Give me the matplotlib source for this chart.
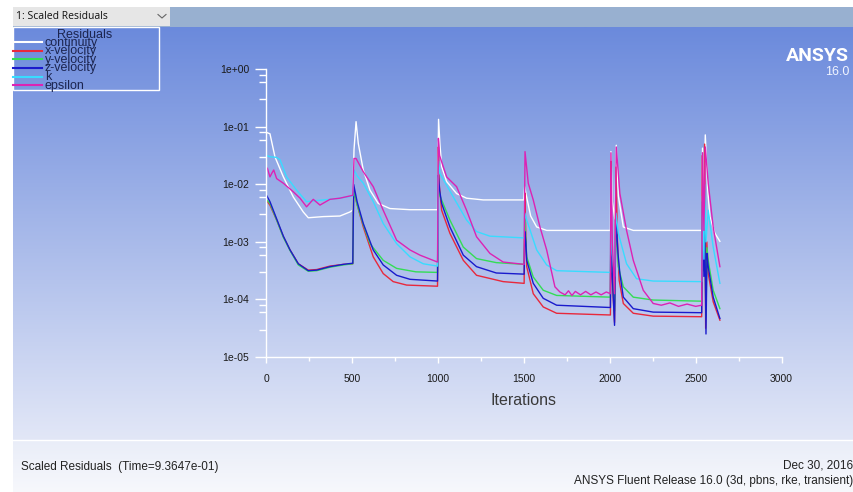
import numpy as np
import matplotlib
matplotlib.use('Agg')
import matplotlib.pyplot as plt
from matplotlib.patches import Rectangle
from matplotlib.ticker import LogLocator, MultipleLocator, NullFormatter

# residual histories: (iteration, log10 residual)
continuity_pts = [
    (5, -1.10), (23, -1.12), (52, -1.52), (101, -1.87), (159, -2.22), (217, -2.48), (246, -2.58),
    (333, -2.56), (430, -2.55), (488, -2.48), (504, -2.45),
    (512, -1.40), (524, -0.91), (537, -1.29), (566, -1.75), (605, -2.10), (653, -2.33), (721, -2.42),
    (838, -2.44), (998, -2.44),
    (1004, -0.87), (1012, -1.30), (1022, -1.69), (1051, -1.95), (1109, -2.16), (1167, -2.24),
    (1264, -2.27), (1500, -2.27),
    (1505, -2.04), (1515, -2.20), (1540, -2.55), (1575, -2.74), (1633, -2.80), (2004, -2.80),
    (2007, -1.43), (2015, -2.30), (2030, -2.60), (2038, -1.32), (2050, -2.20), (2079, -2.74),
    (2137, -2.80), (2536, -2.80),
    (2540, -1.37), (2548, -2.30), (2556, -1.14), (2570, -2.10), (2583, -2.56), (2612, -2.85), (2641, -2.99)]

x_velocity_pts = [
    (8, -2.30), (23, -2.36), (62, -2.62), (101, -2.91), (140, -3.14), (188, -3.38), (246, -3.49),
    (295, -3.48), (372, -3.42), (450, -3.39), (505, -3.38),
    (510, -2.10), (530, -2.35), (566, -2.74), (624, -3.26), (682, -3.55), (740, -3.69), (818, -3.75),
    (998, -3.77),
    (1003, -1.35), (1008, -2.00), (1022, -2.45), (1070, -2.85), (1148, -3.32), (1225, -3.58),
    (1380, -3.69), (1502, -3.72),
    (1506, -2.15), (1512, -2.90), (1517, -3.43), (1555, -3.90), (1613, -4.13), (1691, -4.24), (2004, -4.27),
    (2007, -1.60), (2012, -3.50), (2028, -4.40), (2036, -1.70), (2045, -3.00), (2055, -3.67),
    (2079, -4.07), (2137, -4.24), (2253, -4.29), (2535, -4.30),
    (2538, -1.50), (2545, -3.50), (2552, -1.30), (2558, -4.50), (2565, -3.00), (2573, -3.55),
    (2602, -4.04), (2641, -4.36)]

y_velocity_pts = [
    (8, -2.28), (23, -2.33), (62, -2.62), (101, -2.92), (140, -3.15), (188, -3.40), (246, -3.51),
    (295, -3.50), (372, -3.44), (450, -3.40), (505, -3.38),
    (510, -2.10), (530, -2.35), (566, -2.70), (605, -3.03), (682, -3.32), (760, -3.46), (872, -3.52),
    (998, -3.53),
    (1003, -2.00), (1012, -2.20), (1070, -2.62), (1148, -3.09), (1225, -3.29), (1340, -3.36), (1502, -3.39),
    (1506, -2.60), (1517, -3.26), (1555, -3.61), (1613, -3.84), (1691, -3.93), (2004, -3.96),
    (2007, -2.60), (2015, -3.40), (2028, -4.20), (2036, -2.70), (2050, -3.43), (2079, -3.78),
    (2137, -3.96), (2253, -4.01), (2535, -4.03),
    (2540, -2.60), (2548, -3.50), (2552, -2.70), (2560, -4.30), (2566, -3.10), (2573, -3.32),
    (2602, -3.84), (2641, -4.16)]

z_velocity_pts = [
    (5, -2.20), (23, -2.30), (62, -2.60), (101, -2.90), (140, -3.14), (188, -3.38), (246, -3.50),
    (295, -3.49), (372, -3.43), (450, -3.39), (505, -3.37),
    (510, -2.00), (530, -2.30), (566, -2.68), (624, -3.14), (682, -3.40), (760, -3.58), (838, -3.65),
    (998, -3.68),
    (1003, -1.84), (1010, -2.10), (1022, -2.33), (1070, -2.74), (1148, -3.23), (1225, -3.43),
    (1340, -3.54), (1502, -3.56),
    (1506, -2.82), (1512, -3.00), (1517, -3.32), (1555, -3.72), (1613, -3.98), (1691, -4.10), (2004, -4.14),
    (2007, -2.45), (2015, -3.60), (2028, -4.45), (2036, -2.55), (2048, -3.20), (2059, -3.55),
    (2079, -3.96), (2137, -4.16), (2253, -4.22), (2535, -4.23),
    (2540, -2.30), (2548, -3.60), (2552, -2.50), (2560, -4.60), (2566, -3.20), (2573, -3.43),
    (2602, -3.96), (2641, -4.33)]

k_pts = [
    (5, -1.50), (23, -1.52), (60, -1.53), (81, -1.57), (120, -1.87), (178, -2.10), (236, -2.30),
    (300, -2.28), (372, -2.26), (430, -2.24), (505, -2.20),
    (512, -1.75), (530, -1.85), (566, -1.98), (624, -2.30), (682, -2.68), (760, -3.03), (838, -3.26),
    (915, -3.38), (998, -3.42),
    (1004, -1.60), (1012, -1.81), (1090, -2.22), (1167, -2.62), (1225, -2.82), (1303, -2.90), (1502, -2.93),
    (1506, -2.50), (1517, -2.62), (1575, -3.14), (1633, -3.40), (1691, -3.50), (2004, -3.53),
    (2007, -2.40), (2015, -3.20), (2028, -3.60), (2036, -2.50), (2050, -2.85), (2098, -3.38),
    (2156, -3.64), (2253, -3.68), (2535, -3.69),
    (2540, -2.20), (2548, -3.30), (2552, -2.00), (2560, -3.00), (2573, -2.45), (2602, -3.09), (2641, -3.72)]

epsilon_pts = [
    (8, -1.72), (23, -1.87), (35, -1.80), (45, -1.75), (62, -1.90), (101, -1.98), (159, -2.13),
    (198, -2.24), (236, -2.39), (275, -2.26), (314, -2.36), (372, -2.26), (430, -2.24), (505, -2.19),
    (512, -1.55), (524, -1.55), (566, -1.78), (624, -2.04), (682, -2.45), (760, -2.97), (838, -3.14),
    (896, -3.23), (998, -3.35),
    (1003, -1.20), (1010, -1.50), (1051, -1.87), (1109, -2.04), (1167, -2.45), (1225, -2.91),
    (1303, -3.20), (1380, -3.35), (1502, -3.39),
    (1507, -1.43), (1526, -1.98), (1555, -2.27), (1594, -2.74), (1633, -3.14), (1681, -3.78),
    (1710, -3.87), (1740, -3.92), (1760, -3.85), (1780, -3.93), (1800, -3.86), (1830, -3.92),
    (1860, -3.86), (1890, -3.92), (1920, -3.87), (1950, -3.92), (1980, -3.87), (2004, -3.90),
    (2007, -1.45), (2015, -3.00), (2028, -3.90), (2038, -1.35), (2059, -2.16), (2098, -2.80),
    (2137, -3.32), (2195, -3.84), (2253, -4.07), (2300, -4.10), (2350, -4.06), (2400, -4.12),
    (2450, -4.08), (2500, -4.12), (2535, -4.10),
    (2540, -1.45), (2548, -2.80), (2556, -1.35), (2573, -1.98), (2602, -2.74), (2641, -3.43)]

names = ['continuity', 'x-velocity', 'y-velocity', 'z-velocity', 'k', 'epsilon']
series = [continuity_pts, x_velocity_pts, y_velocity_pts, z_velocity_pts, k_pts, epsilon_pts]
colors = ['#ffffff', '#e8283c', '#33dd55', '#1a1acc', '#38dcff', '#dd22b4']

xticks = [0, 500, 1000, 1500, 2000, 2500, 3000]
ydecades = [-5, -4, -3, -2, -1, 0]

W, H = 854, 492
fig = plt.figure(figsize=(W / 100, H / 100), dpi=100)
fig.patch.set_facecolor('white')

# window background (pixel coordinates)
bg = fig.add_axes([0, 0, 1, 1], zorder=0)
top = np.array([107, 138, 220]) / 255
bot = np.array([226, 231, 247]) / 255
t = np.linspace(0, 1, 256)[:, None, None]
bg.imshow(top + (bot - top) * t, extent=(13, W, 440, 27), aspect='auto', interpolation='bilinear')
t2 = np.linspace(0, 1, 64)[:, None, None]
p1 = np.array([233, 237, 248]) / 255
p2 = np.array([247, 248, 252]) / 255
bg.imshow(p1 + (p2 - p1) * t2, extent=(13, W, H, 440), aspect='auto', interpolation='bilinear')
bg.plot([13, W], [440, 440], color='white', lw=1)
bg.add_patch(Rectangle((13, 7), W - 13, 20, color='#98b0d0', lw=0))
bg.add_patch(Rectangle((13, 7), 157, 19, color='#e6e6e6', lw=0))
bg.text(16, 16.5, '1: Scaled Residuals', fontsize=7.5, va='center', color='#111111', family='Open Sans')
bg.plot([158, 162, 166], [14.5, 18, 14.5], color='#666666', lw=0.8)
bg.set_xlim(0, W)
bg.set_ylim(H, 0)
bg.axis('off')

# legend box
bg.add_patch(Rectangle((13, 27), 146, 63, fill=False, edgecolor='white', lw=1))
bg.text(85, 35, 'Residuals', ha='center', va='center', fontsize=9, color='#1c2550', family='Liberation Sans')
for i, (nm, c) in enumerate(zip(names, colors)):
    yy = 42.3 + 8.55 * i
    bg.plot([13, 42], [yy, yy], color=c, lw=1.5)
    bg.text(45, yy + 0.5, nm, va='center', fontsize=9, color='#1c2550', family='Liberation Sans')

# logo and footer
bg.text(849, 56, 'ANSYS', ha='right', va='center', fontsize=14, weight='bold', color='white', family='Roboto')
bg.text(849, 72, '16.0', ha='right', va='center', fontsize=9, color='#f0f4ff', family='Liberation Sans')
bg.text(21, 467, 'Scaled Residuals  (Time=9.3647e-01)', va='center', fontsize=8.5, color='#222222',
        family='Liberation Sans')
bg.text(853, 466, 'Dec 30, 2016', ha='right', va='center', fontsize=8.5, color='#222222', family='Liberation Sans')
bg.text(853, 481, 'ANSYS Fluent Release 16.0 (3d, pbns, rke, transient)', ha='right', va='center',
        fontsize=8.5, color='#222222', family='Liberation Sans')

# residual plot
ax = fig.add_axes([266 / W, 1 - 357 / H, (781.6 - 266) / W, (357 - 69.3) / H], zorder=1)
ax.patch.set_alpha(0)
for pts, c in zip(series, colors):
    it, lg = np.array(pts).T
    ax.plot(it, 10.0 ** lg, color=c, lw=1.0)

ax.set_yscale('log')
ax.set_ylim(1e-5, 1)
ax.set_xlim(0, 3000)
for s in ['top', 'right']:
    ax.spines[s].set_visible(False)
for s in ['left', 'bottom']:
    ax.spines[s].set_color('white')
    ax.spines[s].set_linewidth(1)

ax.set_yticks([10.0 ** d for d in ydecades])
ax.set_yticklabels([f'{10.0 ** d:.0e}' for d in ydecades])
ax.yaxis.set_minor_locator(LogLocator(base=10, subs=(3, 6, 8)))
ax.yaxis.set_minor_formatter(NullFormatter())
ax.set_xticks(xticks)
ax.set_xticklabels([str(v) for v in xticks])
ax.xaxis.set_minor_locator(MultipleLocator(250))

ax.tick_params(axis='y', which='major', length=8, width=1, color='white', labelsize=7.5,
               labelcolor='#1a1a1a', pad=4)
ax.tick_params(axis='y', which='minor', length=5, width=1, color='white')
ax.tick_params(axis='x', which='major', length=4, width=1, color='white', labelsize=7.5,
               labelcolor='#1a1a1a', pad=8)
ax.tick_params(axis='x', which='minor', length=3, width=1, color='white')
for lab in ax.get_xticklabels() + ax.get_yticklabels():
    lab.set_family('Liberation Sans')
ax.set_xlabel('Iterations', fontsize=11.5, color='#3a3a3a', labelpad=7, family='Liberation Sans')

fig.savefig('out.png', dpi=100)
